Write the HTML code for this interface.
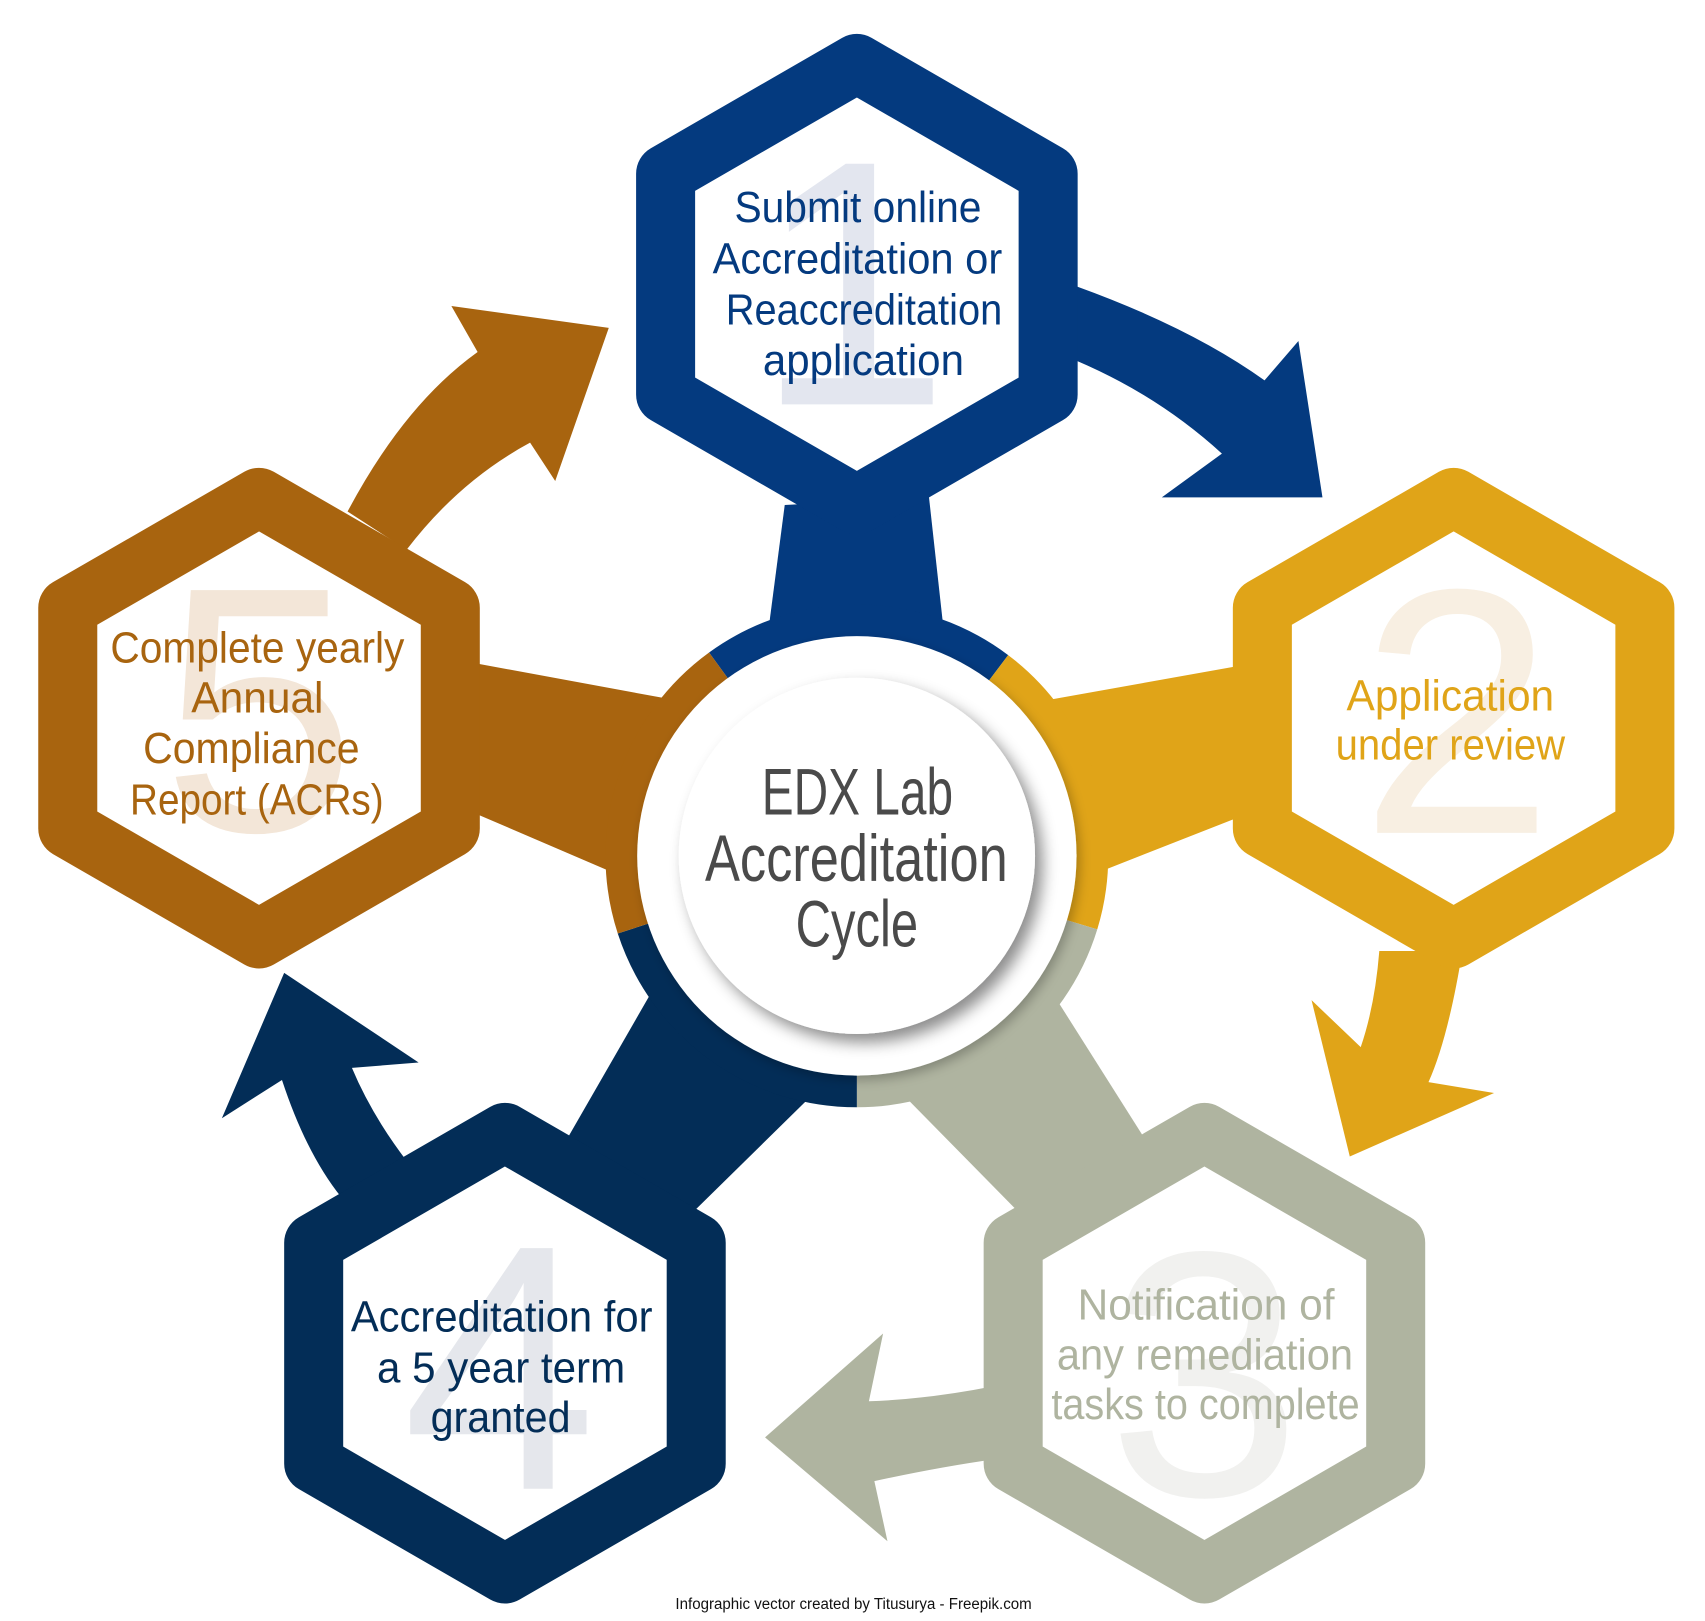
<!DOCTYPE html>
<html><head><meta charset="utf-8"><style>
html,body{margin:0;padding:0;background:#fff;}
svg{display:block;}
text{font-family:"Liberation Sans Narrow","Liberation Sans",sans-serif;}
</style></head><body>
<svg width="1705" height="1621" viewBox="0 0 1560 1483" preserveAspectRatio="none" xmlns="http://www.w3.org/2000/svg">
<defs>
<filter id="sh" x="-30%" y="-30%" width="160%" height="160%">
<feGaussianBlur in="SourceAlpha" stdDeviation="7"/>
<feOffset dx="7" dy="8" result="b"/>
<feFlood flood-color="#000" flood-opacity="0.45"/>
<feComposite in2="b" operator="in"/>
<feMerge><feMergeNode/><feMergeNode in="SourceGraphic"/></feMerge>
</filter>
<filter id="sh2" x="-30%" y="-30%" width="160%" height="160%">
<feGaussianBlur in="SourceAlpha" stdDeviation="5"/>
<feOffset dx="3" dy="4" result="b"/>
<feFlood flood-color="#000" flood-opacity="0.25"/>
<feComposite in2="b" operator="in"/>
<feMerge><feMergeNode/><feMergeNode in="SourceGraphic"/></feMerge>
</filter>
</defs>

<!-- curved arrows -->
<path fill="#043a7f" d="M985,262 Q1090,300 1157,348 L1188,312 L1210,455 L1063,455 L1118,415 Q1060,362 985,330 Z"/>
<path fill="#e0a418" d="M1338,870 Q1325,950 1307,990 L1367,1000 L1235,1058 L1200,915 L1245,958 Q1258,920 1262,870 Z"/>
<path fill="#afb4a0" d="M910,1268 Q850,1280 795,1282 L808,1220 L700,1315 L812,1410 L800,1355 Q860,1342 910,1335 Z"/>
<path fill="#032d57" d="M372,1062 Q340,1020 322,977 L383,972 L260,890 L203,1023 L258,988 Q280,1055 312,1095 Z"/>
<path fill="#a8640f" d="M372,503 Q420,440 485,405 L508,440 L557,300 L413,280 L437,322 Q370,370 318,468 Z"/>

<!-- connectors -->
<polygon fill="#043a7f" points="700,600 718,462 850,455 866,600"/>
<polygon fill="#e0a418" points="950,642 1140,608 1140,745 1000,800"/>
<polygon fill="#afb4a0" points="945,880 1045,1038 935,1112 815,990"/>
<polygon fill="#032d57" points="612,880 520,1040 635,1108 750,995"/>
<polygon fill="#a8640f" points="425,605 615,640 565,800 425,740"/>

<!-- ring segments -->
<g fill="none" stroke-width="30">
<path stroke="#043a7f" d="M657.6,609.1 A215,215 0 0 1 913.4,611.3"/>
<path stroke="#e0a418" d="M913.4,611.3 A215,215 0 0 1 989.6,845.9"/>
<path stroke="#afb4a0" d="M989.6,845.9 A215,215 0 0 1 784,998"/>
<path stroke="#032d57" d="M784,998 A215,215 0 0 1 579.5,849.4"/>
<path stroke="#a8640f" d="M579.5,849.4 A215,215 0 0 1 657.6,609.1"/>
</g>
<circle cx="784" cy="783" r="201" fill="#fff" filter="url(#sh2)"/>
<circle cx="784" cy="783" r="163" fill="#fff" filter="url(#sh)"/>

<!-- hexagons -->
<g stroke-width="54" stroke-linejoin="round" fill="#fff">
<polygon stroke="#043a7f" points="784,58 959,159 959,361 784,462 609,361 609,159"/>
<polygon stroke="#e0a418" points="1330,455 1505,556 1505,758 1330,859 1155,758 1155,556"/>
<polygon stroke="#afb4a0" points="1102,1036 1277,1137 1277,1339 1102,1440 927,1339 927,1137"/>
<polygon stroke="#032d57" points="462,1036 637,1137 637,1339 462,1440 287,1339 287,1137"/>
<polygon stroke="#a8640f" points="237,455 412,556 412,758 237,859 62,758 62,556"/>
</g>

<!-- big numbers -->
<g font-family="Liberation Sans, sans-serif" font-size="320" text-anchor="middle">
<text x="780" y="370" fill="#e3e6ef" style="font-family:'Liberation Sans',sans-serif">1</text>
<text x="1333" y="762" fill="#f8efe2" style="font-family:'Liberation Sans',sans-serif">2</text>
<text x="1102" y="1368" fill="#f1f1ef" style="font-family:'Liberation Sans',sans-serif">3</text>
<text x="457" y="1362" fill="#e5e7ec" style="font-family:'Liberation Sans',sans-serif">4</text>
<text x="237" y="760" fill="#f3e6d8" style="font-family:'Liberation Sans',sans-serif">5</text>
</g>

<!-- labels -->
<g font-size="40" lengthAdjust="spacingAndGlyphs">
<g fill="#043a7f">
<text x="672" y="203" textLength="226" lengthAdjust="spacingAndGlyphs">Submit online</text>
<text x="652" y="250" textLength="265" lengthAdjust="spacingAndGlyphs">Accreditation or</text>
<text x="664" y="297" textLength="253" lengthAdjust="spacingAndGlyphs">Reaccreditation</text>
<text x="698" y="343" textLength="184" lengthAdjust="spacingAndGlyphs">application</text>
</g>
<g fill="#e0a418">
<text x="1232" y="650" textLength="190" lengthAdjust="spacingAndGlyphs">Application</text>
<text x="1222" y="695" textLength="210" lengthAdjust="spacingAndGlyphs">under review</text>
</g>
<g fill="#afb4a0">
<text x="986" y="1207" textLength="235" lengthAdjust="spacingAndGlyphs">Notification of</text>
<text x="967" y="1253" textLength="271" lengthAdjust="spacingAndGlyphs">any remediation</text>
<text x="962" y="1298" textLength="282" lengthAdjust="spacingAndGlyphs">tasks to complete</text>
</g>
<g fill="#032d57">
<text x="321" y="1218" textLength="276" lengthAdjust="spacingAndGlyphs">Accreditation for</text>
<text x="345" y="1265" textLength="227" lengthAdjust="spacingAndGlyphs">a 5 year term</text>
<text x="394" y="1310" textLength="128" lengthAdjust="spacingAndGlyphs">granted</text>
</g>
<g fill="#a8640f">
<text x="101" y="606" textLength="269" lengthAdjust="spacingAndGlyphs">Complete yearly</text>
<text x="175" y="652" textLength="121" lengthAdjust="spacingAndGlyphs">Annual</text>
<text x="131" y="698" textLength="198" lengthAdjust="spacingAndGlyphs">Compliance</text>
<text x="119" y="745" textLength="232" lengthAdjust="spacingAndGlyphs">Report (ACRs)</text>
</g>
</g>
<g fill="#4a4a4a" font-size="60">
<text x="697" y="745" textLength="175" lengthAdjust="spacingAndGlyphs">EDX Lab</text>
<text x="645" y="806" textLength="277" lengthAdjust="spacingAndGlyphs">Accreditation</text>
<text x="728" y="866" textLength="112" lengthAdjust="spacingAndGlyphs">Cycle</text>
</g>
<text x="618" y="1472" font-size="14" fill="#111" textLength="326" lengthAdjust="spacingAndGlyphs">Infographic vector created by Titusurya - Freepik.com</text>
</svg>
</body></html>
